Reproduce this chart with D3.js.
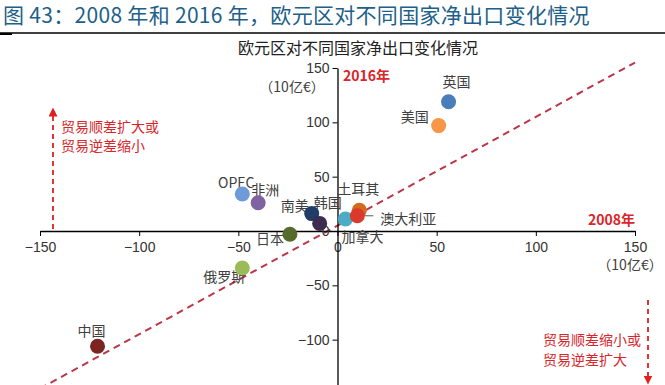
<!DOCTYPE html>
<html lang="zh">
<head>
  <meta charset="UTF-8">
  <title>欧元区对不同国家净出口变化情况</title>
  <style>
    body { margin: 0; background: #fff; }
    svg { display: block; font-family: "Noto Sans CJK SC", "Noto Sans", sans-serif; }
    .tick text { font-size: 14px; fill: #333; font-family: "Liberation Sans", Arial, sans-serif; }
    .lbl { font-size: 14px; fill: #404040; }
    .note { font-size: 14px; fill: #d8262b; }
  </style>
</head>
<body>
  <svg width="665" height="385"></svg>
  <script src="https://cdn.jsdelivr.net/npm/d3@7"></script>
  <script>
    // 数据（10亿€）：x = 2008 年净出口, y = 2016 年净出口
    var names = ['英国', '美国', 'OPEC', '非洲', '南美', '韩国', '日本', '俄罗斯', '中国', '加拿大', '土耳其', '澳大利亚']
    var net2008 = [56, 51, -48, -40, -13, -9, -24, -48, -121, 4, 11, 10]
    var net2016 = [119, 97, 34, 26, 16, 7, -3, -34, -106, 11, 19, 14]
    var ticks = [-150, -100, -50, 0, 50, 100, 150]
    var refLine = [[-150, -145], [150, 155]]

    var colors = ['#4a7ebb', '#f79646', '#6e9bd8', '#8064a2', '#1f3d66', '#3d2b50', '#566b2a', '#9bbb59', '#7b2421', '#4bacc6', '#d2691e', '#d93a2b']
    // 标签相对圆点的偏移 [dx, dy, anchor]
    var labelPos = {
      '英国': [8, -15, 'middle'], '美国': [-10, -4, 'end'], 'OPEC': [-6, -6, 'middle'],
      '非洲': [7, -8, 'middle'], '南美': [-17, -3, 'middle'], '韩国': [8, -15, 'middle'],
      '日本': [-20, 10, 'middle'], '俄罗斯': [-18, 14, 'middle'], '中国': [-6, -10, 'middle'],
      '加拿大': [17, 23, 'middle'], '土耳其': [-1, -16, 'middle'], '澳大利亚': [51, 8, 'middle']
    }

    var svg = d3.select('svg')

    svg.append('text')
      .attr('x', 3).attr('y', 23)
      .attr('font-size', '21px')
      .attr('letter-spacing', '0.3px')
      .attr('fill', '#1d6089')
      .text('图 43：2008 年和 2016 年，欧元区对不同国家净出口变化情况')
    svg.append('line')
      .attr('x1', 0).attr('x2', 665).attr('y1', 33).attr('y2', 33)
      .attr('stroke', '#000').attr('stroke-width', 1.5)
    svg.append('line')
      .attr('x1', 0).attr('x2', 12).attr('y1', 34).attr('y2', 34)
      .attr('stroke', '#000').attr('stroke-width', 2)

    svg.append('text')
      .attr('x', 358).attr('y', 54)
      .attr('text-anchor', 'middle')
      .attr('font-size', '16px')
      .attr('fill', '#222')
      .text('欧元区对不同国家净出口变化情况')

    var x = d3.scaleLinear().domain([-150, 150]).range([40, 635])
    var y = d3.scaleLinear().domain([-150, 150]).range([394, 68])

    var defs = svg.append('defs')
    defs.append('marker')
      .attr('id', 'arr').attr('viewBox', '0 0 10 10')
      .attr('refX', 5).attr('refY', 5)
      .attr('markerWidth', 5).attr('markerHeight', 5)
      .attr('orient', 'auto-start-reverse')
      .append('path').attr('d', 'M0,0 L10,5 L0,10 z').attr('fill', '#e0201e')

    // 参考线
    svg.append('line')
      .attr('x1', x(refLine[0][0])).attr('y1', y(refLine[0][1]))
      .attr('x2', x(refLine[1][0])).attr('y2', y(refLine[1][1]))
      .attr('stroke', '#bc3649').attr('stroke-width', 2)
      .attr('stroke-dasharray', '7,5')

    // 坐标轴
    var xAxis = svg.append('g')
      .attr('transform', 'translate(0,' + y(0) + ')')
      .call(d3.axisBottom(x).tickValues(ticks).tickSize(5).tickSizeOuter(0))
    xAxis.select('.domain').attr('stroke', '#000').attr('stroke-width', 1.3)
    xAxis.selectAll('.tick line').attr('stroke', '#000')
    xAxis.selectAll('.tick text').attr('dy', '0.9em')

    var yAxis = svg.append('g')
      .attr('transform', 'translate(' + x(0) + ',0)')
      .call(d3.axisLeft(y).tickValues(ticks).tickSize(5).tickSizeOuter(0))
    yAxis.select('.domain').attr('stroke', '#000').attr('stroke-width', 1.3)
    yAxis.selectAll('.tick line').attr('stroke', '#000')

    svg.append('text').attr('class', 'lbl').attr('x', 292).attr('y', 92)
      .attr('text-anchor', 'middle').attr('font-size', '11px').text('（10亿€）')
    svg.append('text').attr('class', 'lbl').attr('x', 630).attr('y', 270)
      .attr('text-anchor', 'middle').attr('font-size', '11px').text('（10亿€）')

    svg.append('text').attr('x', 343).attr('y', 81)
      .attr('font-size', '14px').attr('font-weight', 'bold').attr('fill', '#d8262b').text('2016年')
    svg.append('text').attr('x', 635).attr('y', 225).attr('text-anchor', 'end')
      .attr('font-size', '14px').attr('font-weight', 'bold').attr('fill', '#d8262b').text('2008年')

    // 箭头注释
    svg.append('line')
      .attr('x1', 53).attr('y1', 229).attr('x2', 53).attr('y2', 112)
      .attr('stroke', '#e0201e').attr('stroke-width', 1.8)
      .attr('stroke-dasharray', '5,4').attr('marker-end', 'url(#arr)')
    svg.append('text').attr('class', 'note').attr('x', 61).attr('y', 132).text('贸易顺差扩大或')
    svg.append('text').attr('class', 'note').attr('x', 61).attr('y', 151).text('贸易逆差缩小')

    svg.append('line')
      .attr('x1', 648).attr('y1', 300).attr('x2', 648).attr('y2', 380)
      .attr('stroke', '#e0201e').attr('stroke-width', 1.8)
      .attr('stroke-dasharray', '5,4').attr('marker-end', 'url(#arr)')
    svg.append('text').attr('class', 'note').attr('x', 543).attr('y', 345).text('贸易顺差缩小或')
    svg.append('text').attr('class', 'note').attr('x', 543).attr('y', 365).text('贸易逆差扩大')

    // 散点
    var data = names.map(function(n, i) {
      return { name: n, x: net2008[i], y: net2016[i], color: colors[i] }
    })

    var lblG = svg.append('g')
    lblG.selectAll('text')
      .data(data)
      .enter()
      .append('text')
      .attr('class', 'lbl')
      .attr('x', function(d) { return x(d.x) + labelPos[d.name][0] })
      .attr('y', function(d) { return y(d.y) + labelPos[d.name][1] })
      .attr('text-anchor', function(d) { return labelPos[d.name][2] })
      .text(function(d) { return d.name })

    svg.append('line')
      .attr('x1', x(10) + 7).attr('y1', y(14)).attr('x2', x(10) + 16).attr('y2', y(14))
      .attr('stroke', '#595959')

    svg.selectAll('.dot')
      .data(data)
      .enter()
      .append('circle')
      .attr('class', 'dot')
      .attr('cx', function(d) { return x(d.x) })
      .attr('cy', function(d) { return y(d.y) })
      .attr('r', 7.5)
      .attr('fill', function(d) { return d.color })
  </script>
</body>
</html>
